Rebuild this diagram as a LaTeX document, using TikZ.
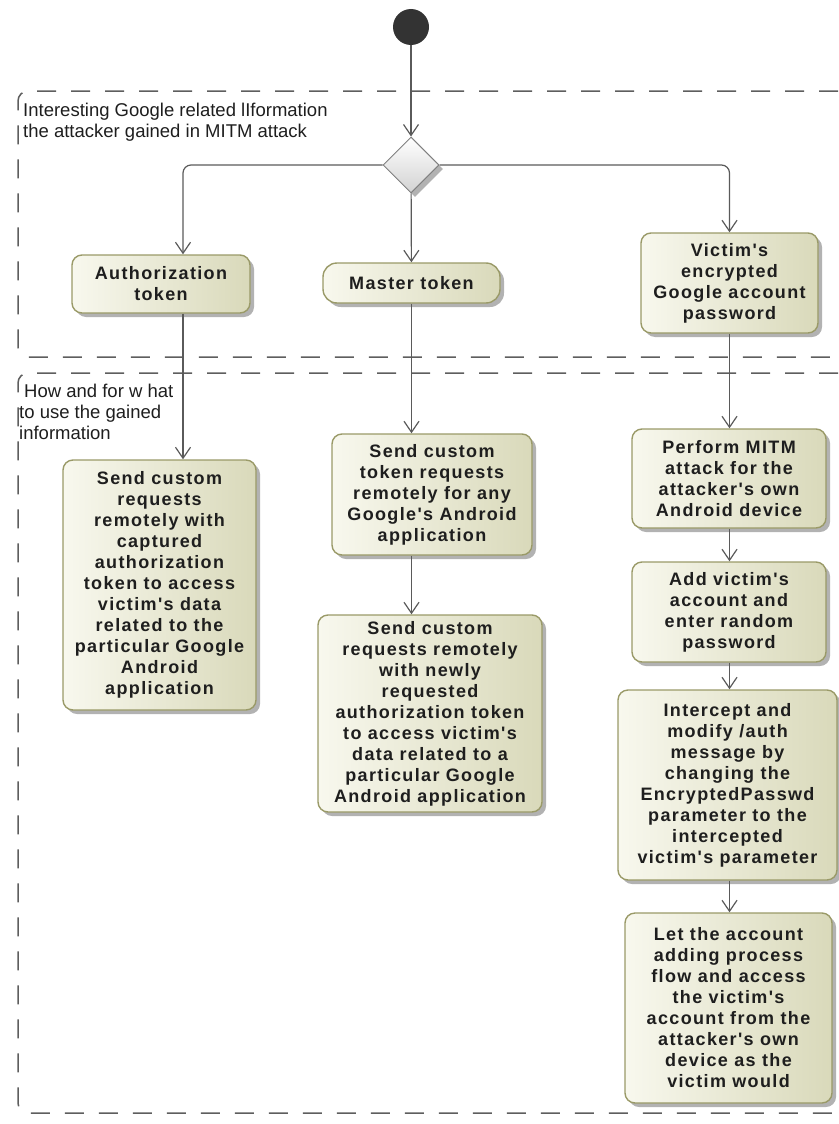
\documentclass[tikz,border=0pt]{standalone}
\usepackage{fontspec}
\setmainfont{Liberation Sans}
\newfontfamily\actfont[LetterSpace=7.5]{Liberation Sans}
\usepackage{tikz}
\usetikzlibrary{arrows.meta,shapes.geometric,shadows}
\definecolor{linegray}{HTML}{5A5A5A}
\definecolor{zonegray}{HTML}{5E5E5E}
\definecolor{boxlight}{HTML}{F8F8EE}
\definecolor{boxdark}{HTML}{D9D9BA}
\definecolor{boxborder}{HTML}{9A9A68}
\definecolor{textdark}{HTML}{1E1E1E}
\definecolor{initfill}{HTML}{333333}

\begin{document}
\begin{tikzpicture}[x=1pt,y=-1pt,
  act/.style={draw=boxborder,line width=1.4pt,rounded corners=10pt,left color=boxlight,right color=boxdark,
    drop shadow={shadow xshift=4pt,shadow yshift=-4pt,fill=black,opacity=.3},
    align=center,inner sep=2pt,text=textdark,font=\actfont\bfseries\fontsize{18}{21}\selectfont},
  flow/.style={draw=linegray,line width=1.2pt,-{Straight Barb[length=11pt,width=15pt,line width=1.2pt]}},
  zone/.style={draw=zonegray,line width=1.5pt,dash pattern=on 19pt off 15pt,rounded corners=10pt},
  zonelabel/.style={anchor=north west,align=left,inner sep=0pt,text=textdark,font=\fontsize{18.5}{21}\selectfont}]
\useasboundingbox (0,0) rectangle (838,1124);
\draw[zone] (838,91) -- (18,91) -- (18,357) -- (838,357);
\draw[zone] (838,373) -- (18,373) -- (18,1113) -- (838,1113);
\node[zonelabel] (infolabel) at (23,103) {Interesting Google related lIformation\\the attacker gained in MITM attack};
\node[zonelabel] (uselabel) at (19,384) {\hspace{5pt}How and for w hat\\to use the gained\\information};
\node[circle,fill=initfill,minimum size=36pt,inner sep=0pt] (start) at (411,27) {};
\node[diamond,draw=gray,line width=1pt,top color=white,bottom color=gray!35,minimum width=56pt,minimum height=56pt,inner sep=0pt,
  drop shadow={shadow xshift=4pt,shadow yshift=-4pt,fill=black,opacity=.3}] (dec) at (411,165) {};
\node[act,minimum width=178pt,minimum height=58pt] (auth) at (161,284) {Authorization\\token};
\node[act,minimum width=177pt,minimum height=40pt,rounded corners=14pt] (master) at (411.5,283) {Master token};
\node[act,minimum width=177pt,minimum height=100pt] (victim) at (729.5,283) {Victim's\\encrypted\\Google account\\password};
\node[act,minimum width=193pt,minimum height=250pt] (sendauth) at (159.5,585) {Send custom\\requests\\remotely with\\captured\\authorization\\token to access\\victim's data\\related to the\\particular Google\\Android\\application};
\node[act,minimum width=200pt,minimum height=121pt] (tokreq) at (432,494.5) {Send custom\\token requests\\remotely for any\\Google's Android\\application};
\node[act,minimum width=224pt,minimum height=197pt] (newreq) at (430,713.5) {Send custom\\requests remotely\\with newly\\requested\\authorization token\\to access victim's\\data related to a\\particular Google\\Android application};
\node[act,minimum width=194pt,minimum height=99pt] (mitm) at (729,478.5) {Perform MITM\\attack for the\\attacker's own\\Android device};
\node[act,minimum width=194pt,minimum height=100pt] (addacc) at (729,612) {Add victim's\\account and\\enter random\\password};
\node[act,minimum width=219pt,minimum height=190pt] (intercept) at (727.5,785) {Intercept and\\modify /auth\\message by\\changing the\\EncryptedPasswd\\parameter to the\\intercepted\\victim's parameter};
\node[act,minimum width=207pt,minimum height=190pt] (letacc) at (728.5,1008) {Let the account\\adding process\\flow and access\\the victim's\\account from the\\attacker's own\\device as the\\victim would};
\draw[flow] (start) -- (dec);
\draw[flow,rounded corners=8pt] (dec.west) -| ([xshift=22pt]auth.north);
\draw[flow] (dec) -- (master);
\draw[flow,rounded corners=8pt] (dec.east) -| (victim.north);
\draw[flow] ([xshift=22pt]auth.south) -- ([xshift=22pt]auth.south |- sendauth.north);
\draw[flow] (master) -- (master |- tokreq.north);
\draw[flow] (master |- tokreq.south) -- (master |- newreq.north);
\draw[flow] (victim) -- (victim |- mitm.north);
\draw[flow] (victim |- mitm.south) -- (victim |- addacc.north);
\draw[flow] (victim |- addacc.south) -- (victim |- intercept.north);
\draw[flow] (victim |- intercept.south) -- (victim |- letacc.north);
\end{tikzpicture}
\end{document}
